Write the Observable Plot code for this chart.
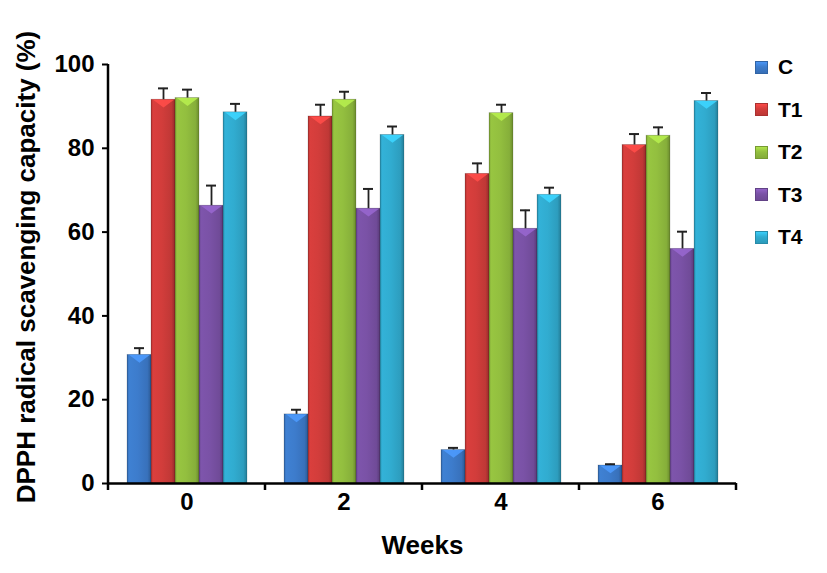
<!DOCTYPE html>
<html><head><meta charset="utf-8">
<script src="https://cdn.jsdelivr.net/npm/d3@7"></script>
<script src="https://cdn.jsdelivr.net/npm/@observablehq/plot@0.6"></script>
<style>
body{margin:0;background:#fff;font-family:"Liberation Sans",Arial,sans-serif;}
#wrap{position:relative;width:827px;height:573px;overflow:hidden;}
#legend{position:absolute;left:755px;top:46px;}
.item{display:flex;align-items:center;height:42.5px;font-weight:bold;font-size:21px;color:#000;}
.sw{width:13px;height:13px;margin-right:10px;box-sizing:border-box;}
g[aria-label="y-axis label"], g[aria-label="fx-axis label"]{font-size:26px;}
</style></head><body>
<div id="wrap"><div id="chart"></div><div id="legend"></div></div>
<script>
// ---- data ----
const weeks = [0, 2, 4, 6];
const series = ["C", "T1", "T2", "T3", "T4"];
const valC  = [30.7, 16.5, 8.0, 4.3];
const valT1 = [91.6, 87.6, 73.9, 80.8];
const valT2 = [92.0, 91.6, 88.4, 83.0];
const valT3 = [66.3, 65.6, 60.8, 56.0];
const valT4 = [88.6, 83.2, 68.9, 91.3];
const errC  = [1.6, 1.1, 0.5, 0.3];
const errT1 = [2.7, 2.8, 2.5, 2.6];
const errT2 = [2.0, 1.9, 2.0, 2.0];
const errT3 = [4.8, 4.7, 4.4, 4.1];
const errT4 = [2.0, 2.0, 1.7, 1.9];
const yTicks = [0, 20, 40, 60, 80, 100];
const colors = ["#3d7ccc", "#d23d3b", "#93bf3f", "#7a52a6", "#31acd0"];

const values = [valC, valT1, valT2, valT3, valT4];
const errors = [errC, errT1, errT2, errT3, errT4];
const data = [];
weeks.forEach((w, wi) => series.forEach((s, si) => {
  data.push({week: w, series: s, value: values[si][wi], err: errors[si][wi]});
}));

const light = colors.map(c => d3.color(c).brighter(0.6).formatHex());

// downward triangle symbol for the bevel highlight at bar tops
const vTri = {
  draw(ctx, size) {
    const r = Math.sqrt(size / Math.PI);
    ctx.moveTo(-r, 0);
    ctx.lineTo(r, 0);
    ctx.lineTo(0, r * 0.75);
    ctx.closePath();
  }
};

const font = '"Liberation Sans", Arial, sans-serif';

const plot = Plot.plot({
  width: 827,
  height: 573,
  marginLeft: 107,
  marginRight: 90,
  marginTop: 64,
  marginBottom: 90,
  style: {fontFamily: font, fontWeight: "bold", fontSize: "24px", color: "#000", background: "#fff"},
  fx: {domain: weeks, paddingInner: 0, paddingOuter: 0},
  x: {domain: series, paddingInner: 0, paddingOuter: 0.74, axis: null},
  y: {domain: [0, 100]},
  color: {type: "ordinal", domain: series, range: series.map(s => `url(#g-${s})`)},
  marks: [
    Plot.barY(data, {fx: "week", x: "series", y: "value", fill: "series",
      stroke: "rgba(0,0,0,0.18)", strokeWidth: 0.8}),
    ...series.map((s, i) => Plot.dot(data.filter(d => d.series === s), {
      fx: "week", x: "series", y: "value", symbol: vTri, r: 10.5,
      fill: light[i], fillOpacity: 0.9, stroke: "none"
    })),
    Plot.ruleX(data, {fx: "week", x: "series", y1: "value", y2: d => d.value + d.err,
      stroke: "#222", strokeWidth: 1.8}),
    Plot.tickY(data, {fx: "week", x: "series", y: d => d.value + d.err,
      insetLeft: 7, insetRight: 7, stroke: "#222", strokeWidth: 2}),
    Plot.ruleY([0], {stroke: "#000", strokeWidth: 2.5}),
    Plot.axisY({ticks: yTicks, tickSize: 6, tickPadding: 8, strokeWidth: 2,
      label: "DPPH radical scavenging capacity (%)", labelAnchor: "center",
      labelArrow: "none", labelOffset: 92}),
    Plot.axisFx({anchor: "bottom", tickSize: 0, tickPadding: 9, label: "Weeks", labelAnchor: "center",
      labelArrow: "none", labelOffset: 70})
  ]
});

const svg = d3.select(plot);
const defs = svg.insert("defs", ":first-child");
series.forEach((s, i) => {
  const base = d3.color(colors[i]);
  const g = defs.append("linearGradient").attr("id", "g-" + s)
    .attr("x1", 0).attr("x2", 1).attr("y1", 0).attr("y2", 0);
  [[0, base.darker(0.7)], [0.08, base.brighter(0.1)], [0.45, base],
   [0.85, base.darker(0.25)], [1, base.darker(0.9)]].forEach(([o, c]) => {
    g.append("stop").attr("offset", o).attr("stop-color", c.formatHex());
  });
});

// nudge the y-axis title slightly upward, as in the reference
const yl = svg.select('g[aria-label="y-axis label"]');
if (!yl.empty()) {
  const t = yl.attr("transform");
  yl.attr("transform", (t ? t + " " : "") + "translate(0,-7)");
}

// axis line and group boundary ticks, derived from the plot's scales
const ys = plot.scale("y");
const fxs = plot.scale("fx");
const y0 = ys.apply(0), y100 = ys.apply(100);
const xLeft = fxs.apply(weeks[0]);
const deco = svg.append("g").attr("stroke", "#000").attr("stroke-width", 2.5);
deco.append("line").attr("x1", xLeft).attr("x2", xLeft).attr("y1", y0).attr("y2", y100);
const edges = [xLeft, ...weeks.map(w => fxs.apply(w) + fxs.bandwidth)];
edges.forEach(x => deco.append("line").attr("x1", x).attr("x2", x).attr("y1", y0).attr("y2", y0 + 7));

document.getElementById("chart").appendChild(plot);

// legend
const leg = d3.select("#legend");
series.forEach((s, i) => {
  const base = d3.color(colors[i]);
  const it = leg.append("div").attr("class", "item");
  it.append("div").attr("class", "sw")
    .style("background", `linear-gradient(to bottom, ${base.brighter(0.5).formatHex()} 0%, ${base.formatHex()} 45%, ${base.darker(0.3).formatHex()} 100%)`)
    .style("border", `1px solid ${base.darker(0.6).formatHex()}`);
  it.append("span").text(s);
});
</script>
</body></html>
